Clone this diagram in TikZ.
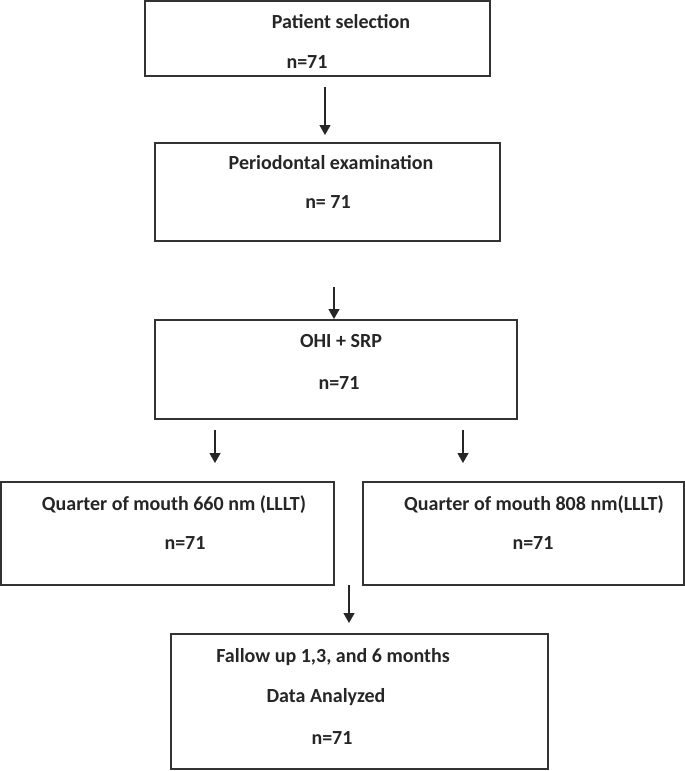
\documentclass[tikz,border=0pt]{standalone}
\usepackage{fontspec}
\setmainfont{Carlito}
\usepackage{tikz}
\usetikzlibrary{arrows.meta}

\tikzset{
  box/.style={draw=black!80, line width=1.4pt, rectangle, inner sep=0pt},
  txt/.style={font=\fontsize{20}{24}\selectfont\bfseries, text=black!85, inner sep=0pt},
  arr/.style={line width=1.3pt, draw=black!85, -{Triangle[length=10pt,width=11pt]}}
}

\begin{document}
\begin{tikzpicture}[x=1pt,y=1pt]
\useasboundingbox (0,0) rectangle (685,-771);

\draw (317.5,-38.5) node (11) [box, minimum width=345pt, minimum height=75pt] {};
\draw (341,-22)     node (12) [txt] {Patient selection};
\draw (307,-62)     node (13) [txt] {n=71};

\coordinate (a1) at (325,-87);
\coordinate (b1) at (325,-135);
\draw[arr] (a1) -- (b1);

\draw (327.5,-192)  node (21) [box, minimum width=345pt, minimum height=98pt] {};
\draw (331,-163)    node (22) [txt] {Periodontal examination};
\draw (328,-202)    node (23) [txt] {n= 71};

\coordinate (a2) at (334,-287);
\coordinate (b2) at (334,-319);
\draw[arr] (a2) -- (b2);

\draw (336,-369.5)  node (31) [box, minimum width=362pt, minimum height=99pt] {};
\draw (341,-341)    node (32) [txt] {OHI + SRP};
\draw (339,-383)    node (33) [txt] {n=71};

\coordinate (a3) at (215,-430);
\coordinate (b3) at (215,-463);
\draw[arr] (a3) -- (b3);
\coordinate (a4) at (463,-430);
\coordinate (b4) at (463,-463);
\draw[arr] (a4) -- (b4);

\draw (167.5,-533.5) node (41) [box, minimum width=333pt, minimum height=103pt] {};
\draw (174,-505)     node (42) [txt] {Quarter of mouth 660 nm (LLLT)};
\draw (185,-543)     node (43) [txt] {n=71};

\draw (523.5,-533.5) node (44) [box, minimum width=321pt, minimum height=103pt] {};
\draw (534,-505)     node (45) [txt] {Quarter of mouth 808 nm(LLLT)};
\draw (533,-543)     node (46) [txt] {n=71};

\coordinate (a5) at (349,-585);
\coordinate (b5) at (349,-623);
\draw[arr] (a5) -- (b5);

\draw (359.5,-701.5) node (51) [box, minimum width=377pt, minimum height=135pt] {};
\draw (333,-657)     node (52) [txt] {Fallow up 1,3, and 6 months};
\draw (326,-697)     node (53) [txt] {Data Analyzed};
\draw (332,-738)     node (54) [txt] {n=71};

\end{tikzpicture}
\end{document}
